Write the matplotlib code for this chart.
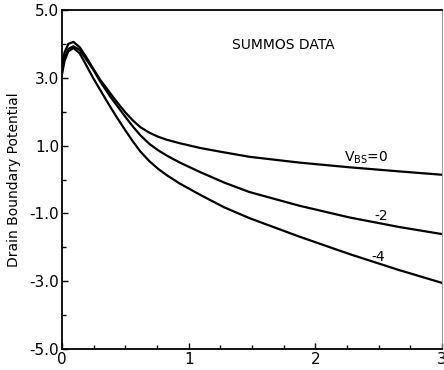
import matplotlib
matplotlib.use("Agg")
import matplotlib.pyplot as plt
from matplotlib.ticker import MultipleLocator, FormatStrFormatter

# Data
x_vals = [0.0, 0.02, 0.05, 0.09, 0.14, 0.19, 0.245, 0.30, 0.38, 0.43, 0.50, 0.56,
          0.62, 0.69, 0.76, 0.83, 0.93, 1.09, 1.28, 1.48, 1.87, 2.27, 2.66, 3.0]
vbs0 = [3.30, 3.75, 4.00, 4.06, 3.90, 3.62, 3.28, 2.95, 2.55, 2.30, 1.98, 1.74,
        1.54, 1.38, 1.26, 1.17, 1.07, 0.93, 0.80, 0.67, 0.50, 0.36, 0.24, 0.14]
vbs2 = [3.20, 3.60, 3.85, 3.93, 3.82, 3.55, 3.25, 2.90, 2.45, 2.20, 1.85, 1.56,
        1.30, 1.05, 0.86, 0.70, 0.50, 0.22, -0.09, -0.37, -0.77, -1.12, -1.40, -1.61]
vbs4 = [3.10, 3.50, 3.78, 3.88, 3.72, 3.38, 3.00, 2.65, 2.15, 1.85, 1.45, 1.12,
        0.82, 0.54, 0.31, 0.12, -0.12, -0.45, -0.82, -1.14, -1.68, -2.20, -2.67, -3.05]

series = [vbs0, vbs2, vbs4]
labels = [r"$\mathregular{V_{BS}}$=0", "-2", "-4"]
label_pos = [(2.40, 0.63), (2.52, -1.08), (2.50, -2.28)]

y_ticks = [-5.0, -3.0, -1.0, 1.0, 3.0, 5.0]
x_ticks = [0, 1, 2, 3]

plt.rcParams['font.family'] = ['DejaVu Sans']

fig = plt.figure(figsize=(4.44, 3.70), dpi=100)
ax = fig.add_axes([62/444, 1 - 349/370, 380/444, 339/370])

for ys in series:
    ax.plot(x_vals, ys, color='black', lw=1.6, solid_capstyle='round',
            solid_joinstyle='round')

for lab, (lx, ly) in zip(labels, label_pos):
    ax.text(lx, ly, lab, fontsize=10, ha='center', va='center')

ax.text(1.75, 3.97, "SUMMOS DATA", fontsize=10, ha='center', va='center')

ax.set_xlim(0, 3)
ax.set_ylim(-5, 5)
ax.set_yticks(y_ticks)
ax.yaxis.set_major_formatter(FormatStrFormatter('%.1f'))
ax.yaxis.set_minor_locator(MultipleLocator(1.0))
ax.set_xticks(x_ticks)
ax.xaxis.set_minor_locator(MultipleLocator(0.25))
ax.tick_params(which='both', direction='in', labelsize=11, width=1, color='black')
ax.tick_params(which='major', length=4, pad=2)
ax.tick_params(which='minor', length=3)
ax.tick_params(axis='x', which='both', top=False)
ax.tick_params(axis='y', which='both', right=False)

for side in ['left', 'bottom', 'top']:
    ax.spines[side].set_linewidth(1.3)
ax.spines['right'].set_linewidth(0.6)
ax.spines['right'].set_color('#888888')

ax.set_ylabel("Drain Boundary Potential", fontsize=10, labelpad=6)

fig.savefig("out.png", dpi=100)
